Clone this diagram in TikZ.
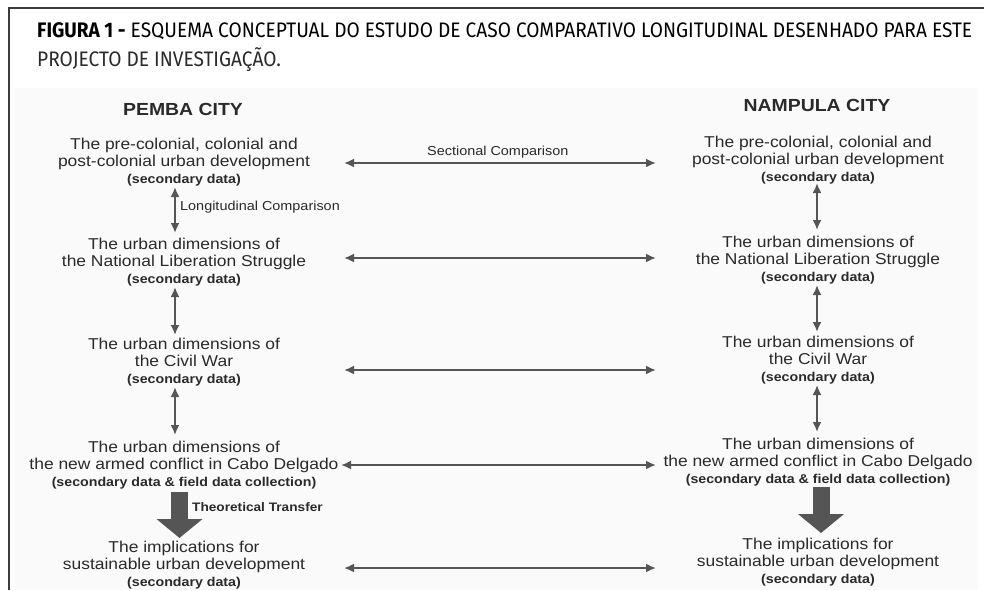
\documentclass[tikz,border=0pt]{standalone}
\usepackage{fontspec}
\usepackage{graphicx}
\setmainfont{Liberation Sans}
\newfontfamily\capfont{Fira Sans}
\newfontfamily\dfont[FakeStretch=1.11]{Liberation Sans}
\usetikzlibrary{arrows.meta}
\definecolor{framecol}{HTML}{3C3C3C}
\definecolor{captxt}{HTML}{2A2A2A}
\definecolor{dtxt}{HTML}{2A2A2A}
\definecolor{arrcol}{HTML}{555555}
\definecolor{bgcol}{HTML}{FAFAFA}
\newsavebox\capboxA
\newcommand\secdata[1]{\\[-1pt]{\fontsize{12.8}{15}\bfseries\selectfont #1}}
\begin{document}
\sbox\capboxA{\capfont\fontsize{21}{24}\selectfont{\bfseries FIGURA 1 -} ESQUEMA CONCEPTUAL DO ESTUDO DE CASO COMPARATIVO LONGITUDINAL DESENHADO PARA ESTE}%
\pgfmathsetmacro\capratio{935/\the\wd\capboxA}%
\begin{tikzpicture}[x=1pt,y=-1pt,
  titletext/.style={font=\dfont\bfseries\fontsize{17.5}{20}\selectfont, text=dtxt, inner sep=0pt},
  block/.style={font=\dfont\fontsize{15.7}{17.5}\selectfont, text=dtxt, align=center, inner sep=0pt},
  lab/.style={font=\dfont\fontsize{13}{15}\selectfont, text=dtxt, inner sep=0pt, anchor=west},
  biglab/.style={font=\dfont\bfseries\fontsize{12.3}{15}\selectfont, text=dtxt, inner sep=0pt, anchor=west},
  dblarrow/.style={draw=arrcol, line width=2.8pt, {Latex[length=10pt,width=9pt]}-{Latex[length=10pt,width=9pt]}},
  bigarrow/.style={draw=arrcol, line width=17pt, -{Triangle[length=19pt,width=45pt]}},
  captxtstyle/.style={font=\capfont\fontsize{21}{24}\selectfont, text=captxt, inner sep=0pt, anchor=base west}
]
\useasboundingbox (0,0) rectangle (984,590);
\fill[white] (0,0) rectangle (984,590);
\fill[bgcol] (15,88) rectangle (978,590);
% frame
\draw[framecol, line width=1.6pt] (9,590) -- (9,8) -- (984,8);

% caption
\node[captxtstyle] (cap1) at (37,37) {\scalebox{\capratio}[1]{\usebox\capboxA}};
\node[captxtstyle] (cap2) at (37,66) {\scalebox{\capratio}[1]{PROJECTO DE INVESTIGAÇÃO.}};

% titles
\node[titletext] (tL) at (183,109) {PEMBA CITY};
\node[titletext] (tR) at (817,105) {NAMPULA CITY};

% left column
\node[block] (L1) at (184,162) {The pre-colonial, colonial and\\post-colonial urban development\secdata{(secondary data)}};
\node[block] (L2) at (184,262) {The urban dimensions of\\the National Liberation Struggle\secdata{(secondary data)}};
\node[block] (L3) at (184,362) {The urban dimensions of\\the Civil War\secdata{(secondary data)}};
\node[block] (L4) at (184,465) {The urban dimensions of\\the new armed conflict in Cabo Delgado\secdata{(secondary data \& field data collection)}};
\node[block] (L5) at (184,565) {The implications for\\sustainable urban development\secdata{(secondary data)}};

% right column
\node[block] (R1) at (818,160) {The pre-colonial, colonial and\\post-colonial urban development\secdata{(secondary data)}};
\node[block] (R2) at (818,260) {The urban dimensions of\\the National Liberation Struggle\secdata{(secondary data)}};
\node[block] (R3) at (818,360) {The urban dimensions of\\the Civil War\secdata{(secondary data)}};
\node[block] (R4) at (818,462) {The urban dimensions of\\the new armed conflict in Cabo Delgado\secdata{(secondary data \& field data collection)}};
\node[block] (R5) at (818,562) {The implications for\\sustainable urban development\secdata{(secondary data)}};

% arrow end points
\coordinate (vL1a) at (175,187); \coordinate (vL1b) at (175,233);
\coordinate (vL2a) at (175,287); \coordinate (vL2b) at (175,335);
\coordinate (vL3a) at (175,387); \coordinate (vL3b) at (175,435);
\coordinate (vR1a) at (817,183); \coordinate (vR1b) at (817,230);
\coordinate (vR2a) at (817,285); \coordinate (vR2b) at (817,332);
\coordinate (vR3a) at (817,385); \coordinate (vR3b) at (817,432);
\coordinate (h1a) at (344,163); \coordinate (h1b) at (656,163);
\coordinate (h2a) at (344,258); \coordinate (h2b) at (656,258);
\coordinate (h3a) at (344,370); \coordinate (h3b) at (656,370);
\coordinate (h4a) at (341,465); \coordinate (h4b) at (656,465);
\coordinate (h5a) at (344,568); \coordinate (h5b) at (656,568);
\coordinate (bL1) at (179.5,492); \coordinate (bL2) at (179.5,538);
\coordinate (bR1) at (821,487); \coordinate (bR2) at (821,533);

% vertical arrows
\draw[dblarrow] (vL1a) -- (vL1b);
\draw[dblarrow] (vL2a) -- (vL2b);
\draw[dblarrow] (vL3a) -- (vL3b);
\draw[dblarrow] (vR1a) -- (vR1b);
\draw[dblarrow] (vR2a) -- (vR2b);
\draw[dblarrow] (vR3a) -- (vR3b);

% horizontal arrows
\draw[dblarrow] (h1a) -- (h1b);
\draw[dblarrow] (h2a) -- (h2b);
\draw[dblarrow] (h3a) -- (h3b);
\draw[dblarrow] (h4a) -- (h4b);
\draw[dblarrow] (h5a) -- (h5b);

% big arrows
\draw[bigarrow] (bL1) -- (bL2);
\draw[bigarrow] (bR1) -- (bR2);

% labels
\node[lab] (lsect) at (427,152) {Sectional Comparison};
\node[lab] (llong) at (180,207) {Longitudinal Comparison};
\node[biglab] (ltheo) at (192,507) {Theoretical Transfer};
\end{tikzpicture}
\end{document}
